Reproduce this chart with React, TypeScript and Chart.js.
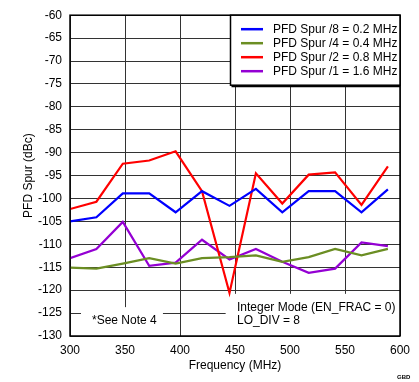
import React, { useEffect, useRef } from "react";
import { Chart, registerables } from "chart.js";

Chart.register(...registerables);

const frequencies = [300, 324, 348, 372, 396, 420, 445, 469, 493, 517, 541, 565, 589];
const spurDiv8 = [-105.0, -104.1, -98.9, -98.9, -103.0, -98.4, -101.6, -97.9, -103.0, -98.4, -98.4, -103.0, -98.0];
const spurDiv4 = [-115.1, -115.3, -114.2, -113.0, -114.2, -113.0, -112.8, -112.4, -113.8, -112.8, -111.0, -112.4, -111.0];
const spurDiv2 = [-102.3, -100.7, -92.4, -91.7, -89.7, -98.4, -120.6, -94.5, -101.1, -94.8, -94.3, -101.4, -93.0];
const spurDiv1 = [-113.0, -111.0, -105.1, -114.7, -114.0, -109.0, -113.3, -111.0, -113.8, -116.2, -115.3, -109.6, -110.4];

const seriesLabels = [
  "PFD Spur /8 = 0.2 MHz",
  "PFD Spur /4 = 0.4 MHz",
  "PFD Spur /2 = 0.8 MHz",
  "PFD Spur /1 = 1.6 MHz",
];
const seriesColors = ["#0000FF", "#6B8E23", "#FF0000", "#9400D3"];
const seriesValues = [spurDiv8, spurDiv4, spurDiv2, spurDiv1];

const xTitle = "Frequency (MHz)";
const yTitle = "PFD Spur (dBc)";
const noteText = "*See Note 4";
const modeLines = ["Integer Mode (EN_FRAC = 0)", "LO_DIV = 8"];
const codeText = "GBD";

const FONT = "'Liberation Sans', Arial, sans-serif";

const decorPlugin = {
  id: "decor",
  beforeDatasetsDraw(chart: any) {
    const ctx = chart.ctx;
    const x = chart.scales.x;
    const y = chart.scales.y;
    ctx.save();
    ctx.fillStyle = "#FFFFFF";
    const b1l = x.getPixelForValue(310);
    const b1r = x.getPixelForValue(384.5);
    const b1t = y.getPixelForValue(-123.7);
    ctx.fillRect(b1l, b1t, b1r - b1l, y.bottom - b1t);
    const b2l = x.getPixelForValue(441.5);
    const b2t = y.getPixelForValue(-120.8);
    ctx.fillRect(b2l, b2t, x.right - b2l, y.bottom - b2t);
    ctx.restore();
  },
  afterDraw(chart: any) {
    const ctx = chart.ctx;
    const area = chart.chartArea;
    const y = chart.scales.y;
    ctx.save();
    ctx.strokeStyle = "#000000";
    ctx.lineWidth = 1.5;
    ctx.strokeRect(area.left, area.top, area.right - area.left, area.bottom - area.top);

    const lx = 230.5;
    const ly = area.top;
    const lw = area.right - lx;
    const lh = 70;
    ctx.fillStyle = "#FFFFFF";
    ctx.fillRect(lx, ly, lw, lh);
    ctx.lineWidth = 1.5;
    ctx.strokeStyle = "#000000";
    ctx.strokeRect(lx, ly, lw, lh);
    ctx.beginPath();
    ctx.lineWidth = 2;
    ctx.moveTo(lx + 1, ly + lh + 1);
    ctx.lineTo(lx + lw, ly + lh + 1);
    ctx.stroke();
    ctx.font = "12px " + FONT;
    ctx.textBaseline = "middle";
    ctx.textAlign = "left";
    for (let i = 0; i < seriesLabels.length; i++) {
      const ry = ly + 14 + i * 14;
      ctx.strokeStyle = seriesColors[i];
      ctx.lineWidth = 2.5;
      ctx.beginPath();
      ctx.moveTo(241, ry);
      ctx.lineTo(263, ry);
      ctx.stroke();
      ctx.fillStyle = "#000000";
      ctx.fillText(seriesLabels[i], 273, ry + 0.5);
    }

    ctx.fillStyle = "#000000";
    ctx.fillText(noteText, 92, y.getPixelForValue(-126.6));
    ctx.fillText(modeLines[0], 237, y.getPixelForValue(-123.8));
    ctx.fillText(modeLines[1], 237, y.getPixelForValue(-126.6));

    ctx.textAlign = "center";
    ctx.fillText(xTitle, (area.left + area.right) / 2, 366);
    ctx.save();
    ctx.translate(29, (area.top + area.bottom) / 2);
    ctx.rotate(-Math.PI / 2);
    ctx.fillText(yTitle, 0, 0);
    ctx.restore();

    ctx.font = "bold 6px " + FONT;
    ctx.textAlign = "left";
    ctx.fillText(codeText, 397, 377);
    ctx.restore();
  },
};

export default function App() {
  const canvasRef = useRef<HTMLCanvasElement | null>(null);

  useEffect(() => {
    if (!canvasRef.current) return;
    const chart = new Chart(canvasRef.current, {
      type: "line",
      data: {
        datasets: seriesValues.map((vals, i) => ({
          label: seriesLabels[i],
          data: frequencies.map((f, j) => ({ x: f, y: vals[j] })),
          borderColor: seriesColors[i],
          backgroundColor: seriesColors[i],
          borderWidth: 2.2,
          pointRadius: 0,
          tension: 0,
          fill: false,
        })),
      },
      options: {
        responsive: false,
        animation: false,
        devicePixelRatio: 1,
        layout: { padding: { top: 7, right: 19, left: 0, bottom: 0 } },
        plugins: {
          legend: { display: false },
          tooltip: { enabled: false },
          title: { display: false },
        },
        scales: {
          x: {
            type: "linear",
            min: 300,
            max: 600,
            ticks: {
              stepSize: 50,
              color: "#000000",
              font: { size: 12, family: FONT },
              padding: 7,
              maxRotation: 0,
            },
            grid: { color: "#333333", lineWidth: 1, drawTicks: false },
            border: { display: false },
            afterFit: (s: any) => {
              s.height = 46;
            },
          },
          y: {
            min: -130,
            max: -60,
            ticks: {
              stepSize: 5,
              color: "#000000",
              font: { size: 12, family: FONT },
              padding: 8,
            },
            grid: { color: "#333333", lineWidth: 1, drawTicks: false },
            border: { display: false },
            afterFit: (s: any) => {
              s.width = 70;
            },
          },
        },
      },
      plugins: [decorPlugin],
    });
    return () => chart.destroy();
  }, []);

  return (
    <div style={{ position: "fixed", left: 0, top: 0, width: 419, height: 382, background: "#FFFFFF" }}>
      <canvas ref={canvasRef} width={419} height={382} />
    </div>
  );
}
